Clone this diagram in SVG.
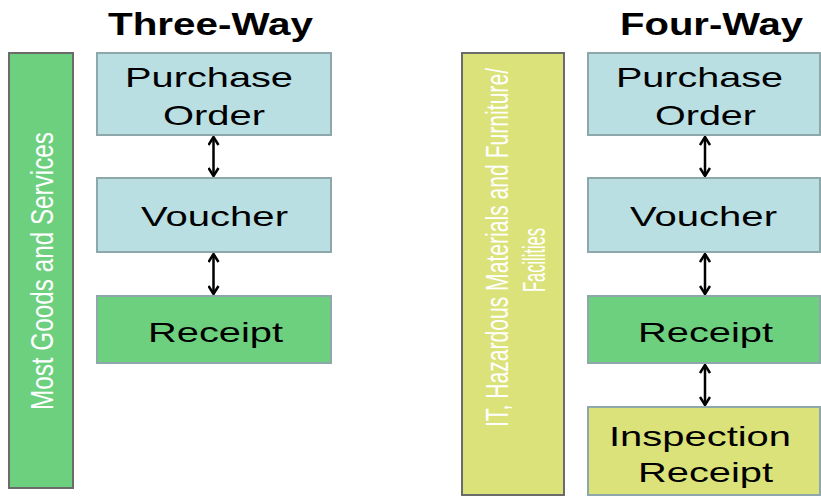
<svg xmlns="http://www.w3.org/2000/svg" width="821" height="496" viewBox="0 0 821 496">
  <style>
    .title { font-family: "Liberation Sans", Arial, sans-serif; font-weight: bold; font-size: 31px; fill: #000; }
    .lbl { font-family: "Liberation Sans", Arial, sans-serif; font-size: 28px; fill: #000; }
    .side { font-family: "Liberation Sans", Arial, sans-serif; font-size: 32px; fill: #fff; }
    .bar { stroke: #6b6b6b; stroke-width: 2; }
    .box { stroke: #8ea7ab; stroke-width: 2; }
    .blue { fill: #b9dfe3; }
    .green { fill: #6dd07f; }
    .yellow { fill: #dce27a; }
    .link { stroke: #000; stroke-width: 2.5; fill: none; marker-start: url(#chev); marker-end: url(#chev); }
  </style>
  <defs>
    <marker id="chev" viewBox="0 0 10 12" refX="9" refY="6" markerWidth="10" markerHeight="12" markerUnits="userSpaceOnUse" orient="auto-start-reverse">
      <path d="M1,1 L9,6 L1,11" fill="none" stroke="#000" stroke-width="2.5"/>
    </marker>
  </defs>

  <rect width="821" height="496" fill="#fff"/>

  <!-- column headings -->
  <text class="title" x="108" y="35" textLength="205" lengthAdjust="spacingAndGlyphs">Three-Way</text>
  <text class="title" x="620" y="35" textLength="183" lengthAdjust="spacingAndGlyphs">Four-Way</text>

  <!-- three-way column -->
  <g id="bar-most-goods">
    <rect class="bar green" x="9" y="53" width="64" height="435"/>
    <text class="side" transform="translate(53,410) rotate(-90)" textLength="278" lengthAdjust="spacingAndGlyphs">Most Goods and Services</text>
  </g>
  <g id="po-3">
    <rect class="box blue" x="97" y="53" width="234" height="82"/>
    <text class="lbl" x="125" y="87" textLength="168" lengthAdjust="spacingAndGlyphs">Purchase</text>
    <text class="lbl" x="163" y="125" textLength="102" lengthAdjust="spacingAndGlyphs">Order</text>
  </g>
  <g id="voucher-3">
    <rect class="box blue" x="97" y="178" width="234" height="74"/>
    <text class="lbl" x="141" y="226" textLength="147" lengthAdjust="spacingAndGlyphs">Voucher</text>
  </g>
  <g id="receipt-3">
    <rect class="box green" x="97" y="296" width="234" height="67"/>
    <text class="lbl" x="148" y="342" textLength="135" lengthAdjust="spacingAndGlyphs">Receipt</text>
  </g>

  <!-- four-way column -->
  <g id="bar-it">
    <rect class="bar yellow" x="462" y="53" width="102" height="442"/>
    <text class="side" transform="translate(508,427) rotate(-90)" textLength="359" lengthAdjust="spacingAndGlyphs">IT, Hazardous Materials and Furniture/</text>
    <text class="side" transform="translate(545,292) rotate(-90)" textLength="64" lengthAdjust="spacingAndGlyphs">Facilities</text>
  </g>
  <g id="po-4">
    <rect class="box blue" x="588" y="53" width="232" height="82"/>
    <text class="lbl" x="616" y="87" textLength="167" lengthAdjust="spacingAndGlyphs">Purchase</text>
    <text class="lbl" x="655" y="125" textLength="101" lengthAdjust="spacingAndGlyphs">Order</text>
  </g>
  <g id="voucher-4">
    <rect class="box blue" x="588" y="178" width="232" height="74"/>
    <text class="lbl" x="630" y="226" textLength="147" lengthAdjust="spacingAndGlyphs">Voucher</text>
  </g>
  <g id="receipt-4">
    <rect class="box green" x="588" y="296" width="232" height="67"/>
    <text class="lbl" x="638" y="342" textLength="135" lengthAdjust="spacingAndGlyphs">Receipt</text>
  </g>
  <g id="inspection-4">
    <rect class="box yellow" x="588" y="407" width="232" height="88"/>
    <text class="lbl" x="609" y="446" textLength="182" lengthAdjust="spacingAndGlyphs">Inspection</text>
    <text class="lbl" x="638" y="482" textLength="135" lengthAdjust="spacingAndGlyphs">Receipt</text>
  </g>

  <!-- two-way links between stages -->
  <g id="connectors">
    <line class="link" x1="213.5" y1="137" x2="213.5" y2="176"/>
    <line class="link" x1="213.5" y1="254" x2="213.5" y2="294"/>
    <line class="link" x1="705" y1="137" x2="705" y2="176"/>
    <line class="link" x1="705" y1="254" x2="705" y2="294"/>
    <line class="link" x1="705" y1="365" x2="705" y2="405"/>
  </g>
</svg>
